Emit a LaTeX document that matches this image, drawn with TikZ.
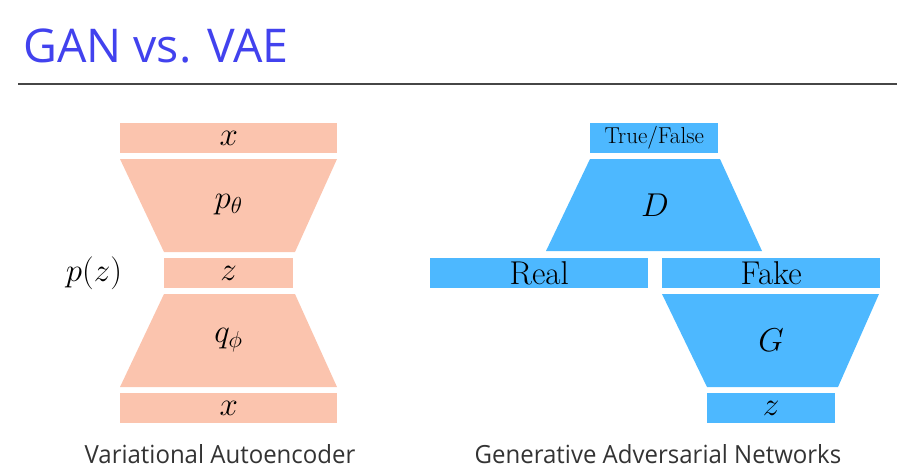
\RequirePackage{fix-cm}
\documentclass[tikz,border=0pt]{standalone}
\usepackage{fontspec}
\newfontfamily\titlefont{Open Sans}
\newfontfamily\capfont[FakeStretch=0.96]{Open Sans}
\definecolor{vaeorange}{RGB}{251,196,174}
\definecolor{ganblue}{RGB}{77,184,255}
\definecolor{titleblue}{RGB}{66,66,238}
\definecolor{rulegray}{RGB}{70,70,70}
\tikzset{
  vaebar/.style={fill=vaeorange,inner sep=0pt,anchor=north west,minimum height=30pt},
  ganbar/.style={fill=ganblue,inner sep=0pt,anchor=north west,minimum height=30pt},
  big/.style={font=\fontsize{33}{35}\selectfont},
  caption/.style={font=\capfont\fontsize{25}{28}\selectfont,text=black!80,anchor=base}
}
\begin{document}
\begin{tikzpicture}[x=1pt,y=-1pt]
\useasboundingbox (0,0) rectangle (897,475);
\node[anchor=base west,inner sep=0pt,text=titleblue,font=\titlefont\fontsize{46.5}{52}\selectfont] (title) at (23,62) {GAN vs. VAE};
\draw[rulegray,line width=2pt] (18,84) -- (897,84);
% VAE
\node[vaebar,minimum width=217pt,big] (xtop) at (120,123) {$x$};
\fill[vaeorange] (120,159) -- (337,159) -- (295,252) -- (164,252) -- cycle;
\node[big] (ptheta) at (228.5,205) {$p_\theta$};
\node[vaebar,minimum width=129pt,big] (zvae) at (164,258) {$z$};
\node[big,anchor=center] (pz) at (94,273) {$p(z)$};
\fill[vaeorange] (164,294) -- (295,294) -- (337,387) -- (120,387) -- cycle;
\node[big] (qphi) at (228.5,340) {$q_\phi$};
\node[vaebar,minimum width=217pt,big] (xbot) at (120,393) {$x$};
\node[caption] (vaecap) at (220,463) {Variational Autoencoder};
% GAN
\node[ganbar,minimum width=128pt,font=\fontsize{23}{25}\selectfont] (tf) at (590,123) {True/False};
\fill[ganblue] (590,159) -- (720,159) -- (762,251) -- (546,251) -- cycle;
\node[big] (disc) at (655,205) {$D$};
\node[ganbar,minimum width=218pt,big] (real) at (430,258) {Real};
\node[ganbar,minimum width=218pt,big] (fake) at (662,258) {Fake};
\fill[ganblue] (662,294) -- (879,294) -- (838,387) -- (707,387) -- cycle;
\node[big] (gen) at (771,340) {$G$};
\node[ganbar,minimum width=128pt,big] (zgan) at (707,393) {$z$};
\node[caption] (gancap) at (658,463) {Generative Adversarial Networks};
\end{tikzpicture}
\end{document}
